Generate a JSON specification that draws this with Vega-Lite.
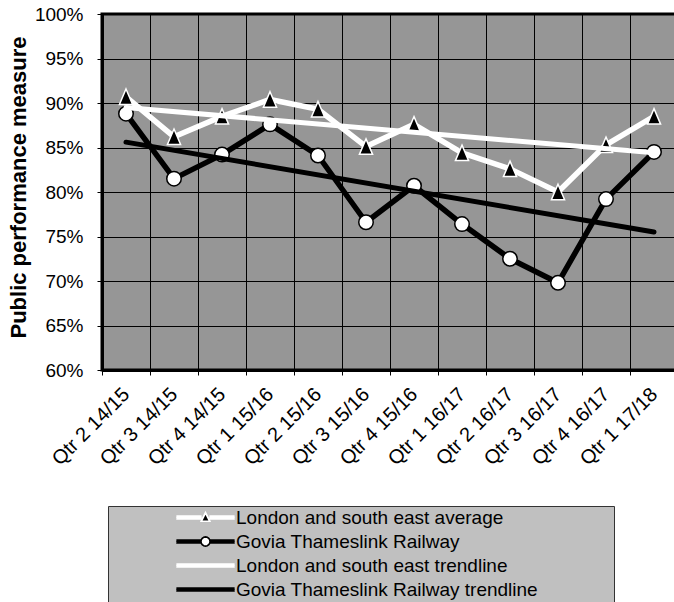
{
  "$schema": "https://vega.github.io/schema/vega-lite/v6.json",
  "width": 576,
  "height": 356,
  "autosize": {"type": "none"},
  "padding": {"left": 102, "top": 14, "right": -4, "bottom": 232},
  "background": "white",
  "config": {
    "font": "Liberation Sans",
    "view": {"fill": "#969696", "stroke": "black", "strokeWidth": 3}
  },
  "data": {
    "values": [
      {"quarter": "Qtr 2 14/15", "series": "London and south east average", "value": 90.7},
      {"quarter": "Qtr 3 14/15", "series": "London and south east average", "value": 86.2},
      {"quarter": "Qtr 4 14/15", "series": "London and south east average", "value": 88.5},
      {"quarter": "Qtr 1 15/16", "series": "London and south east average", "value": 90.4},
      {"quarter": "Qtr 2 15/16", "series": "London and south east average", "value": 89.3},
      {"quarter": "Qtr 3 15/16", "series": "London and south east average", "value": 85.1},
      {"quarter": "Qtr 4 15/16", "series": "London and south east average", "value": 87.6},
      {"quarter": "Qtr 1 16/17", "series": "London and south east average", "value": 84.4},
      {"quarter": "Qtr 2 16/17", "series": "London and south east average", "value": 82.6},
      {"quarter": "Qtr 3 16/17", "series": "London and south east average", "value": 80.0},
      {"quarter": "Qtr 4 16/17", "series": "London and south east average", "value": 85.3},
      {"quarter": "Qtr 1 17/18", "series": "London and south east average", "value": 88.5},
      {"quarter": "Qtr 2 14/15", "series": "Govia Thameslink Railway", "value": 88.8},
      {"quarter": "Qtr 3 14/15", "series": "Govia Thameslink Railway", "value": 81.5},
      {"quarter": "Qtr 4 14/15", "series": "Govia Thameslink Railway", "value": 84.2},
      {"quarter": "Qtr 1 15/16", "series": "Govia Thameslink Railway", "value": 87.6},
      {"quarter": "Qtr 2 15/16", "series": "Govia Thameslink Railway", "value": 84.1},
      {"quarter": "Qtr 3 15/16", "series": "Govia Thameslink Railway", "value": 76.6},
      {"quarter": "Qtr 4 15/16", "series": "Govia Thameslink Railway", "value": 80.7},
      {"quarter": "Qtr 1 16/17", "series": "Govia Thameslink Railway", "value": 76.4},
      {"quarter": "Qtr 2 16/17", "series": "Govia Thameslink Railway", "value": 72.5},
      {"quarter": "Qtr 3 16/17", "series": "Govia Thameslink Railway", "value": 69.8},
      {"quarter": "Qtr 4 16/17", "series": "Govia Thameslink Railway", "value": 79.2},
      {"quarter": "Qtr 1 17/18", "series": "Govia Thameslink Railway", "value": 84.5},
      {"quarter": "Qtr 2 14/15", "series": "London and south east trendline", "value": 89.5},
      {"quarter": "Qtr 1 17/18", "series": "London and south east trendline", "value": 84.4},
      {"quarter": "Qtr 2 14/15", "series": "Govia Thameslink Railway trendline", "value": 85.6},
      {"quarter": "Qtr 1 17/18", "series": "Govia Thameslink Railway trendline", "value": 75.5}
    ]
  },
  "encoding": {
    "x": {
      "field": "quarter",
      "type": "nominal",
      "sort": ["Qtr 2 14/15", "Qtr 3 14/15", "Qtr 4 14/15", "Qtr 1 15/16", "Qtr 2 15/16", "Qtr 3 15/16", "Qtr 4 15/16", "Qtr 1 16/17", "Qtr 2 16/17", "Qtr 3 16/17", "Qtr 4 16/17", "Qtr 1 17/18"],
      "scale": {"type": "band", "paddingInner": 0, "paddingOuter": 0},
      "axis": {
        "title": null,
        "tickBand": "extent",
        "grid": true,
        "gridColor": "black",
        "gridWidth": 1,
        "gridOpacity": 1,
        "domainColor": "black",
        "domainWidth": 3,
        "ticks": true,
        "tickSize": 5,
        "tickColor": "black",
        "tickWidth": 1,
        "labelAngle": -45,
        "labelAlign": "right",
        "labelBaseline": "middle",
        "labelPadding": 16,
        "labelFont": "Liberation Sans",
        "labelFontSize": 20,
        "labelColor": "black",
        "labelOverlap": false,
        "labelLimit": 300
      }
    },
    "y": {
      "field": "value",
      "type": "quantitative",
      "scale": {"domain": [60, 100], "nice": false, "zero": false},
      "axis": {
        "values": [60, 65, 70, 75, 80, 85, 90, 95, 100],
        "labelExpr": "datum.value + '%'",
        "grid": true,
        "gridColor": "black",
        "gridWidth": 1,
        "gridOpacity": 1,
        "domainColor": "black",
        "domainWidth": 3,
        "tickSize": 5,
        "tickColor": "black",
        "tickWidth": 1,
        "labelPadding": 14,
        "labelFont": "Liberation Sans",
        "labelFontSize": 19,
        "labelColor": "black",
        "labelOverlap": false,
        "title": "Public performance measure",
        "titleFont": "Liberation Sans",
        "titleFontSize": 22,
        "titleFontWeight": "bold",
        "titleColor": "black",
        "titleAngle": 270,
        "titleAlign": "center",
        "titleBaseline": "alphabetic",
        "titleX": -77,
        "titleY": 173
      }
    }
  },
  "layer": [
    {
      "transform": [{"filter": "datum.series === 'London and south east average'"}],
      "mark": {"type": "line", "strokeWidth": 5.5, "strokeJoin": "round", "strokeCap": "round"},
      "encoding": {
        "stroke": {
          "field": "series",
          "type": "nominal",
          "scale": {
            "domain": ["London and south east average", "Govia Thameslink Railway", "London and south east trendline", "Govia Thameslink Railway trendline"],
            "range": ["white", "black", "white", "black"]
          },
          "legend": {
            "title": null,
            "orient": "none",
            "legendX": 6,
            "legendY": 492,
            "direction": "vertical",
            "fillColor": "#c0c0c0",
            "strokeColor": "#333333",
            "padding": 2,
            "rowPadding": 4,
            "symbolSize": 100,
            "symbolStrokeWidth": 1.7,
            "symbolOffset": 86,
            "labelOffset": 21,
            "labelFont": "Liberation Sans",
            "labelFontSize": 19,
            "labelColor": "black",
            "labelLimit": 600,
            "encode": {
              "symbols": {
                "update": {
                  "shape": {"signal": "datum.value === 'London and south east average' ? 'M-5.7,-0.3H-0.9M-5.7,0H-0.9M-5.7,0.3H-0.9M0.9,-0.3H5.7M0.9,0H5.7M0.9,0.3H5.7M0,-0.95L0.85,0.75L-0.85,0.75ZM80.5,0' : datum.value === 'Govia Thameslink Railway' ? 'M-5.7,-0.3H-0.9M-5.7,0H-0.9M-5.7,0.3H-0.9M0.9,-0.3H5.7M0.9,0H5.7M0.9,0.3H5.7M0.92,0L0.85,0.352L0.651,0.651L0.352,0.85L0,0.92L-0.352,0.85L-0.651,0.651L-0.85,0.352L-0.92,0L-0.85,-0.352L-0.651,-0.651L-0.352,-0.85L0,-0.92L0.352,-0.85L0.651,-0.651L0.85,-0.352ZM80.5,0' : 'M-5.7,-0.3H5.7M-5.7,0H5.7M-5.7,0.3H5.7M80.5,0'"},
                  "fill": {"signal": "datum.value === 'Govia Thameslink Railway' ? 'white' : 'black'"},
                  "strokeWidth": {"value": 1.7},
                  "strokeCap": {"value": "round"},
                  "size": {"value": 100},
                  "opacity": {"value": 1}
                }
              }
            }
          }
        }
      }
    },
    {
      "transform": [{"filter": "datum.series === 'London and south east average'"}],
      "mark": {"type": "point", "filled": true, "fill": "black", "stroke": "white", "strokeWidth": 1.5, "opacity": 1, "fillOpacity": 1, "strokeOpacity": 1, "shape": "M0,-1L0.85,1L-0.85,1Z", "size": 240}
    },
    {
      "transform": [{"filter": "datum.series === 'Govia Thameslink Railway'"}],
      "mark": {"type": "line", "strokeWidth": 5.5, "strokeJoin": "round", "strokeCap": "round"},
      "encoding": {"stroke": {"field": "series", "type": "nominal"}}
    },
    {
      "transform": [{"filter": "datum.series === 'Govia Thameslink Railway'"}],
      "mark": {"type": "point", "filled": true, "fill": "white", "stroke": "black", "strokeWidth": 1.5, "opacity": 1, "fillOpacity": 1, "strokeOpacity": 1, "shape": "circle", "size": 210}
    },
    {
      "transform": [{"filter": "indexof(datum.series, 'trendline') >= 0"}],
      "mark": {"type": "line", "strokeWidth": 5, "strokeCap": "round"},
      "encoding": {"stroke": {"field": "series", "type": "nominal"}}
    }
  ]
}
